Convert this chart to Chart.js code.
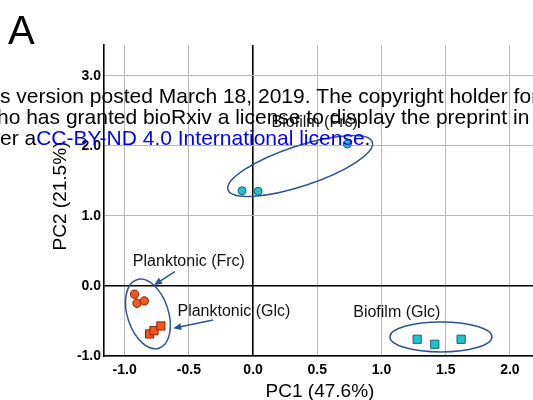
<!DOCTYPE html>
<html><head><meta charset="utf-8">
<script src="https://cdn.jsdelivr.net/npm/chart.js@4/dist/chart.umd.min.js"></script>
<style>html,body{margin:0;padding:0;background:#fff;overflow:hidden}</style>
</head><body>
<canvas id="c" width="533" height="400"></canvas>
<script>
// ---- data ----
const biofilmFrcX = [-0.086, 0.039, 0.734];
const biofilmFrcY = [1.360, 1.352, 2.027];
const planktonicFrcX = [-0.923, -0.904, -0.847];
const planktonicFrcY = [-0.118, -0.247, -0.214];
const planktonicGlcX = [-0.806, -0.772, -0.718];
const planktonicGlcY = [-0.685, -0.638, -0.571];
const biofilmGlcX = [1.278, 1.415, 1.620];
const biofilmGlcY = [-0.761, -0.832, -0.761];
const xTicks = [-1.0, -0.5, 0.0, 0.5, 1.0, 1.5, 2.0];
const yTicks = [-1.0, 0.0, 1.0, 2.0, 3.0];
const xTitle = 'PC1 (47.6%)';
const yTitle = 'PC2 (21.5%)';
const panelLabel = 'A';

const groupLabels = [
  {text: 'Biofilm (Frc)', x: 0.48, y: 2.27},
  {text: 'Planktonic (Frc)', x: -0.50, y: 0.29},
  {text: 'Planktonic (Glc)', x: -0.149, y: -0.428},
  {text: 'Biofilm (Glc)', x: 1.119, y: -0.438}
];
// ellipses: centre in data units, semi-axes in px, rotation in degrees
const ellipses = [
  {x: 0.367, y: 1.713, a: 76, b: 20, rot: -18.3},
  {x: -0.819, y: -0.40, a: 36, b: 20.5, rot: 72},
  {x: 1.463, y: -0.728, a: 51, b: 15, rot: 0}
];
const arrows = [
  {x1: -0.609, y1: 0.204, x2: -0.772, y2: 0.014},
  {x1: -0.311, y1: -0.485, x2: -0.622, y2: -0.604}
];
const watermark = [
  [['s version posted March 18, 2019. The copyright holder for this preprint', '#000']],
  [['ho has granted bioRxiv a license to display the preprint in perpetuity.', '#000']],
  [['er a', '#000'], ['CC-BY-ND 4.0 International license', '#0000ff'], ['.', '#000']]
];

const toPts = (xs, ys) => xs.map((x, i) => ({x, y: ys[i]}));
const ORANGE = '#f0561f', ORANGE_B = '#8a2408';
const CYAN = '#1fc3cc', CYAN_B = '#1d5f78';
const BLUE = '#2e5590';

const overlay = {
  id: 'overlay',
  beforeDatasetsDraw(chart) {
    const {ctx, scales: {x, y}} = chart;
    ctx.save();
    ctx.strokeStyle = BLUE;
    ctx.lineWidth = 1.5;
    ellipses.forEach(e => {
      ctx.beginPath();
      ctx.ellipse(x.getPixelForValue(e.x), y.getPixelForValue(e.y), e.a, e.b, e.rot * Math.PI / 180, 0, Math.PI * 2);
      ctx.stroke();
    });
    arrows.forEach(a => {
      const x1 = x.getPixelForValue(a.x1), y1 = y.getPixelForValue(a.y1);
      const x2 = x.getPixelForValue(a.x2), y2 = y.getPixelForValue(a.y2);
      const ang = Math.atan2(y2 - y1, x2 - x1);
      ctx.beginPath();
      ctx.moveTo(x1, y1);
      ctx.lineTo(x2 - 5 * Math.cos(ang), y2 - 5 * Math.sin(ang));
      ctx.stroke();
      ctx.fillStyle = BLUE;
      ctx.beginPath();
      ctx.moveTo(x2, y2);
      ctx.lineTo(x2 - 8 * Math.cos(ang) + 3.5 * Math.sin(ang), y2 - 8 * Math.sin(ang) - 3.5 * Math.cos(ang));
      ctx.lineTo(x2 - 8 * Math.cos(ang) - 3.5 * Math.sin(ang), y2 - 8 * Math.sin(ang) + 3.5 * Math.cos(ang));
      ctx.closePath();
      ctx.fill();
    });
    ctx.fillStyle = '#111';
    ctx.font = '16px "Liberation Sans", Arial, sans-serif';
    ctx.textAlign = 'center';
    ctx.textBaseline = 'alphabetic';
    groupLabels.forEach(l => ctx.fillText(l.text, x.getPixelForValue(l.x), y.getPixelForValue(l.y)));
    ctx.restore();
  },
  afterDraw(chart) {
    const {ctx} = chart;
    ctx.save();
    ctx.fillStyle = '#000';
    ctx.font = '19px "Liberation Sans", Arial, sans-serif';
    ctx.textAlign = 'center';
    ctx.textBaseline = 'alphabetic';
    ctx.fillText(xTitle, 320, 397);
    ctx.save();
    ctx.translate(66, 196);
    ctx.rotate(-Math.PI / 2);
    ctx.fillText(yTitle, 0, 0);
    ctx.restore();
    ctx.textAlign = 'left';
    ctx.font = '40px "Liberation Sans", Arial, sans-serif';
    ctx.fillText(panelLabel, 8, 44);
    // watermark overlay
    ctx.font = '21px "Liberation Sans", Arial, sans-serif';
    const baselines = [103, 124, 145];
    const starts = [0, -3, 0];
    watermark.forEach((line, i) => {
      let cx = starts[i];
      line.forEach(([t, col]) => {
        ctx.fillStyle = col;
        ctx.fillText(t, cx, baselines[i]);
        cx += ctx.measureText(t).width;
      });
    });
    ctx.restore();
  }
};

const gridColor = ctx => (ctx.tick && ctx.tick.value === 0) ? '#000' : '#b8b8b8';
const gridWidth = ctx => (ctx.tick && ctx.tick.value === 0) ? 1.6 : 1;

new Chart(document.getElementById('c'), {
  type: 'scatter',
  data: {
    datasets: [
      {label: 'Biofilm (Frc)', data: toPts(biofilmFrcX, biofilmFrcY), pointStyle: 'circle', pointRadius: 4, backgroundColor: CYAN, borderColor: CYAN_B, borderWidth: 1},
      {label: 'Planktonic (Frc)', data: toPts(planktonicFrcX, planktonicFrcY), pointStyle: 'circle', pointRadius: 4.2, backgroundColor: ORANGE, borderColor: ORANGE_B, borderWidth: 1},
      {label: 'Planktonic (Glc)', data: toPts(planktonicGlcX, planktonicGlcY), pointStyle: 'rect', pointRadius: 5.8, backgroundColor: ORANGE, borderColor: ORANGE_B, borderWidth: 1},
      {label: 'Biofilm (Glc)', data: toPts(biofilmGlcX, biofilmGlcY), pointStyle: 'rect', pointRadius: 5.8, backgroundColor: CYAN, borderColor: CYAN_B, borderWidth: 1}
    ]
  },
  options: {
    responsive: false,
    animation: false,
    devicePixelRatio: 1,
    layout: {autoPadding: false, padding: {top: 45, right: 0, left: 0, bottom: 0}},
    plugins: {legend: {display: false}, tooltip: {enabled: false}},
    scales: {
      x: {
        type: 'linear', min: -1.161, max: 2.18,
        afterBuildTicks: s => { s.ticks = xTicks.map(v => ({value: v})); },
        afterFit: s => { s.height = 44; s.paddingLeft = 0; s.paddingRight = 0; },
        grid: {color: gridColor, lineWidth: gridWidth, drawTicks: false},
        border: {color: '#000', width: 1.6},
        ticks: {color: '#000', padding: 6, font: {family: '"Liberation Sans", Arial, sans-serif', size: 14, weight: 'bold'}, callback: v => v.toFixed(1), maxRotation: 0, autoSkip: false}
      },
      y: {
        type: 'linear', min: -1.0, max: 3.44,
        afterBuildTicks: s => { s.ticks = yTicks.map(v => ({value: v})); },
        afterFit: s => { s.width = 104; s.paddingTop = 0; s.paddingBottom = 0; },
        grid: {color: gridColor, lineWidth: gridWidth, drawTicks: false},
        border: {color: '#000', width: 1.6},
        ticks: {color: '#000', padding: 3, font: {family: '"Liberation Sans", Arial, sans-serif', size: 14, weight: 'bold'}, callback: v => v.toFixed(1), autoSkip: false}
      }
    }
  },
  plugins: [overlay]
});
</script>
</body></html>
